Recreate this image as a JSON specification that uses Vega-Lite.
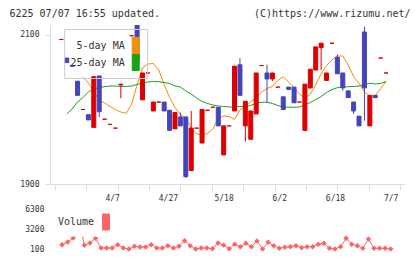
{
  "$schema": "https://vega.github.io/schema/vega-lite/v6.json",
  "width": 355,
  "height": 224,
  "autosize": "none",
  "padding": {"left": 50, "top": 25, "right": 15, "bottom": 10},
  "background": "white",
  "config": {
    "view": {"stroke": null},
    "axis": {
      "labelFont": "DejaVu Sans Mono",
      "labelFontSize": 8,
      "labelColor": "#333",
      "grid": false,
      "domainColor": "#dcdcdc",
      "tickColor": "#dcdcdc",
      "titleFont": "DejaVu Sans Mono",
      "titleFontSize": 10,
      "titleFontWeight": "normal",
      "titleColor": "#333"
    },
    "legend": {
      "labelFont": "DejaVu Sans Mono",
      "labelFontSize": 10,
      "labelColor": "#333",
      "symbolType": "M-1,-2.2857H1V2.2857H-1Z",
      "symbolSize": 49
    }
  },
  "datasets": {
    "candles": [
      {"i": 0, "o": 2094, "c": 2094, "h": 2094, "l": 2094},
      {"i": 1, "o": 2069, "c": 2063, "h": 2069, "l": 2063},
      {"i": 2, "o": 2059, "c": 2058, "h": 2059, "l": 2058},
      {"i": 3, "o": 2038, "c": 2019, "h": 2038, "l": 2019},
      {"i": 4, "o": 2000, "c": 2000, "h": 2000, "l": 2000},
      {"i": 5, "o": 1993, "c": 1986, "h": 1993, "l": 1986},
      {"i": 6, "o": 1976, "c": 2044, "h": 2044, "l": 1976},
      {"i": 7, "o": 2045, "c": 1997, "h": 2045, "l": 1990},
      {"i": 8, "o": 1987, "c": 1987, "h": 1987, "l": 1987},
      {"i": 9, "o": 1980, "c": 1980, "h": 1980, "l": 1980},
      {"i": 10, "o": 1975, "c": 1975, "h": 1975, "l": 1975},
      {"i": 11, "o": 2033, "c": 2034, "h": 2034, "l": 2015},
      {"i": 13, "o": 2099, "c": 2099, "h": 2099, "l": 2099},
      {"i": 14, "o": 2118, "c": 2063, "h": 2118, "l": 2063},
      {"i": 15, "o": 2013, "c": 2049, "h": 2049, "l": 2013},
      {"i": 16, "o": 2049, "c": 2049, "h": 2049, "l": 2049},
      {"i": 17, "o": 1998, "c": 2010, "h": 2010, "l": 1998},
      {"i": 18, "o": 2010, "c": 2010, "h": 2010, "l": 2010},
      {"i": 19, "o": 2010, "c": 1998, "h": 2010, "l": 1998},
      {"i": 20, "o": 1999, "c": 1972, "h": 1999, "l": 1972},
      {"i": 21, "o": 1974, "c": 1996, "h": 1996, "l": 1974},
      {"i": 22, "o": 1990, "c": 1978, "h": 1996, "l": 1978},
      {"i": 23, "o": 1990, "c": 1910, "h": 1990, "l": 1908},
      {"i": 24, "o": 1918, "c": 1975, "h": 1998, "l": 1918},
      {"i": 25, "o": 1975, "c": 1975, "h": 1975, "l": 1975},
      {"i": 26, "o": 1955, "c": 2000, "h": 2000, "l": 1955},
      {"i": 27, "o": 1999, "c": 1999, "h": 1999, "l": 1999},
      {"i": 28, "o": 2003, "c": 2003, "h": 2003, "l": 2003},
      {"i": 29, "o": 2003, "c": 1978, "h": 2003, "l": 1978},
      {"i": 30, "o": 1939, "c": 1978, "h": 1978, "l": 1939},
      {"i": 31, "o": 1978, "c": 1978, "h": 1978, "l": 1978},
      {"i": 32, "o": 1998, "c": 2058, "h": 2059, "l": 1998},
      {"i": 33, "o": 2060, "c": 2019, "h": 2069, "l": 2019},
      {"i": 34, "o": 1978, "c": 2011, "h": 2011, "l": 1957},
      {"i": 35, "o": 1960, "c": 1998, "h": 1998, "l": 1960},
      {"i": 36, "o": 1994, "c": 2049, "h": 2049, "l": 1994},
      {"i": 37, "o": 2059, "c": 2059, "h": 2059, "l": 2059},
      {"i": 38, "o": 2049, "c": 2041, "h": 2060, "l": 2010},
      {"i": 39, "o": 2041, "c": 2049, "h": 2049, "l": 2038},
      {"i": 40, "o": 2030, "c": 2030, "h": 2030, "l": 2030},
      {"i": 41, "o": 2017, "c": 2000, "h": 2017, "l": 2000},
      {"i": 42, "o": 2030, "c": 2027, "h": 2030, "l": 2026},
      {"i": 43, "o": 2030, "c": 2009, "h": 2030, "l": 2009},
      {"i": 44, "o": 2010, "c": 2010, "h": 2010, "l": 2010},
      {"i": 45, "o": 1972, "c": 2034, "h": 2034, "l": 1972},
      {"i": 46, "o": 2029, "c": 2054, "h": 2054, "l": 2028},
      {"i": 47, "o": 2053, "c": 2084, "h": 2084, "l": 2053},
      {"i": 48, "o": 2083, "c": 2089, "h": 2089, "l": 2053},
      {"i": 49, "o": 2039, "c": 2049, "h": 2049, "l": 2039},
      {"i": 50, "o": 2089, "c": 2089, "h": 2089, "l": 2089},
      {"i": 51, "o": 2070, "c": 2048, "h": 2074, "l": 2048},
      {"i": 52, "o": 2049, "c": 2029, "h": 2049, "l": 2025},
      {"i": 53, "o": 2025, "c": 2016, "h": 2025, "l": 2016},
      {"i": 54, "o": 2010, "c": 1998, "h": 2010, "l": 1994},
      {"i": 55, "o": 1991, "c": 1978, "h": 1991, "l": 1978},
      {"i": 56, "o": 2104, "c": 2029, "h": 2111, "l": 1985},
      {"i": 57, "o": 1978, "c": 2019, "h": 2019, "l": 1978},
      {"i": 58, "o": 2019, "c": 2016, "h": 2019, "l": 2015},
      {"i": 59, "o": 2069, "c": 2069, "h": 2069, "l": 2069},
      {"i": 60, "o": 2049, "c": 2049, "h": 2049, "l": 2049}
    ],
    "ma": [
      {"i": 1, "25-day MA": 1994.0},
      {"i": 2, "25-day MA": 2000.7},
      {"i": 3, "25-day MA": 2010.1},
      {"i": 4, "5-day MA": 2043.6, "25-day MA": 2016.1},
      {"i": 5, "5-day MA": 2035.6, "25-day MA": 2023.5},
      {"i": 6, "5-day MA": 2023.5, "25-day MA": 2027.5},
      {"i": 7, "5-day MA": 2012.7, "25-day MA": 2029.5},
      {"i": 8, "5-day MA": 2008.7, "25-day MA": 2030.6},
      {"i": 9, "5-day MA": 2004.0, "25-day MA": 2031.5},
      {"i": 10, "5-day MA": 2000.0, "25-day MA": 2031.5},
      {"i": 11, "5-day MA": 1996.6, "25-day MA": 2030.9},
      {"i": 12, "5-day MA": 1994.9, "25-day MA": 2030.9},
      {"i": 13, "5-day MA": 2007.4, "25-day MA": 2031.5},
      {"i": 14, "5-day MA": 2032.9, "25-day MA": 2033.6},
      {"i": 15, "5-day MA": 2055.7, "25-day MA": 2035.6},
      {"i": 16, "5-day MA": 2061.1, "25-day MA": 2036.9},
      {"i": 17, "5-day MA": 2061.7, "25-day MA": 2037.6},
      {"i": 18, "5-day MA": 2053.0, "25-day MA": 2037.3},
      {"i": 19, "5-day MA": 2033.6, "25-day MA": 2036.2},
      {"i": 20, "5-day MA": 2016.1, "25-day MA": 2034.9},
      {"i": 21, "5-day MA": 2002.7, "25-day MA": 2031.5},
      {"i": 22, "5-day MA": 1993.3, "25-day MA": 2030.2},
      {"i": 23, "5-day MA": 1988.6, "25-day MA": 2024.8},
      {"i": 24, "5-day MA": 1975.2, "25-day MA": 2020.8},
      {"i": 25, "5-day MA": 1967.1, "25-day MA": 2015.4},
      {"i": 26, "5-day MA": 1965.8, "25-day MA": 2010.7},
      {"i": 27, "5-day MA": 1967.8, "25-day MA": 2008.1},
      {"i": 28, "5-day MA": 1973.8, "25-day MA": 2006.0},
      {"i": 29, "5-day MA": 1988.6, "25-day MA": 2004.7},
      {"i": 30, "5-day MA": 1991.3, "25-day MA": 2004.0},
      {"i": 31, "5-day MA": 1990.6, "25-day MA": 2003.4},
      {"i": 32, "5-day MA": 1986.8, "25-day MA": 2003.4},
      {"i": 33, "5-day MA": 1999.3, "25-day MA": 2004.0},
      {"i": 34, "5-day MA": 2004.0, "25-day MA": 2004.0},
      {"i": 35, "5-day MA": 2010.5, "25-day MA": 2005.4},
      {"i": 36, "5-day MA": 2015.4, "25-day MA": 2008.7},
      {"i": 37, "5-day MA": 2023.5, "25-day MA": 2009.7},
      {"i": 38, "5-day MA": 2028.2, "25-day MA": 2009.7},
      {"i": 39, "5-day MA": 2030.9, "25-day MA": 2008.1},
      {"i": 40, "5-day MA": 2038.9, "25-day MA": 2005.4},
      {"i": 41, "5-day MA": 2044.0, "25-day MA": 2003.4},
      {"i": 42, "5-day MA": 2036.9, "25-day MA": 2003.0},
      {"i": 43, "5-day MA": 2028.9, "25-day MA": 2003.0},
      {"i": 44, "5-day MA": 2020.8, "25-day MA": 2003.4},
      {"i": 45, "5-day MA": 2015.0, "25-day MA": 2006.0},
      {"i": 46, "5-day MA": 2020.8, "25-day MA": 2009.4},
      {"i": 47, "5-day MA": 2032.9, "25-day MA": 2013.4},
      {"i": 48, "5-day MA": 2047.7, "25-day MA": 2017.4},
      {"i": 49, "5-day MA": 2059.1, "25-day MA": 2022.8},
      {"i": 50, "5-day MA": 2066.4, "25-day MA": 2026.8},
      {"i": 51, "5-day MA": 2071.8, "25-day MA": 2029.3},
      {"i": 52, "5-day MA": 2071.8, "25-day MA": 2030.2},
      {"i": 53, "5-day MA": 2059.7, "25-day MA": 2030.6},
      {"i": 54, "5-day MA": 2044.3, "25-day MA": 2030.9},
      {"i": 55, "5-day MA": 2034.9, "25-day MA": 2031.5},
      {"i": 56, "5-day MA": 2023.5, "25-day MA": 2033.6},
      {"i": 57, "5-day MA": 2018.1, "25-day MA": 2035.2},
      {"i": 58, "5-day MA": 2018.8, "25-day MA": 2034.2},
      {"i": 59, "5-day MA": 2028.2, "25-day MA": 2034.9},
      {"i": 60, "5-day MA": 2037.6, "25-day MA": 2037.6}
    ],
    "vol": [
      {"i": 1, "v": 770}, {"i": 2, "v": 1185}, {"i": 3, "v": 1805}, {"i": 4, "v": 5000},
      {"i": 5, "v": 670}, {"i": 6, "v": 1030}, {"i": 7, "v": 1760}, {"i": 8, "v": 255},
      {"i": 9, "v": 255}, {"i": 10, "v": 255}, {"i": 11, "v": 770}, {"i": 12, "v": 255},
      {"i": 13, "v": 100}, {"i": 14, "v": 520}, {"i": 15, "v": 410}, {"i": 16, "v": 410},
      {"i": 17, "v": 770}, {"i": 18, "v": 255}, {"i": 19, "v": 255}, {"i": 20, "v": 610},
      {"i": 21, "v": 255}, {"i": 22, "v": 520}, {"i": 23, "v": 1390}, {"i": 24, "v": 610},
      {"i": 25, "v": 100}, {"i": 26, "v": 255}, {"i": 27, "v": 255}, {"i": 28, "v": 150},
      {"i": 29, "v": 1030}, {"i": 30, "v": 700}, {"i": 31, "v": 150}, {"i": 32, "v": 830},
      {"i": 33, "v": 460}, {"i": 34, "v": 980}, {"i": 35, "v": 460}, {"i": 36, "v": 1340},
      {"i": 37, "v": 100}, {"i": 38, "v": 1140}, {"i": 39, "v": 610}, {"i": 40, "v": 210},
      {"i": 41, "v": 360}, {"i": 42, "v": 460}, {"i": 43, "v": 610}, {"i": 44, "v": 300},
      {"i": 45, "v": 460}, {"i": 46, "v": 460}, {"i": 47, "v": 830}, {"i": 48, "v": 980},
      {"i": 49, "v": 210}, {"i": 50, "v": 100}, {"i": 51, "v": 460}, {"i": 52, "v": 1760},
      {"i": 53, "v": 830}, {"i": 54, "v": 610}, {"i": 55, "v": 210}, {"i": 56, "v": 1650},
      {"i": 57, "v": 210}, {"i": 58, "v": 210}, {"i": 59, "v": 210}, {"i": 60, "v": 100}
    ]
  },
  "layer": [
    {
      "encoding": {
        "x": {
          "field": "i",
          "type": "quantitative",
          "scale": {"domain": [-1.167, 62.57], "nice": false, "zero": false},
          "axis": {
            "orient": "bottom",
            "offset": -65,
            "title": null,
            "labels": false,
            "tickSize": 6,
            "values": [-1.167, 4.627, 10.422, 16.216, 22.01, 27.805, 33.599, 39.393, 45.188, 50.982, 56.776, 62.57]
          }
        }
      },
      "layer": [
        {
          "data": {"name": "ma"},
          "transform": [{"fold": ["5-day MA", "25-day MA"], "as": ["series", "ma"]}],
          "mark": {"type": "line", "strokeWidth": 1, "clip": true},
          "encoding": {
            "y": {
              "field": "ma",
              "type": "quantitative",
              "scale": {"domain": [1900, 2113.4], "range": [159, 0], "nice": false, "zero": false},
              "axis": {
                "title": "(C)https://www.rizumu.net/",
                "titleAngle": 0,
                "titleAlign": "right",
                "titleBaseline": "alphabetic",
                "titleX": 360,
                "titleY": -9,
                "values": [1900, 2100],
                "format": "d",
                "tickSize": 5,
                "labelPadding": 6
              }
            },
            "color": {
              "field": "series",
              "type": "nominal",
              "scale": {"domain": ["5-day MA", "25-day MA"], "range": ["#f0900a", "#1aa31a"]},
              "legend": {
                "title": " ",
                "titleFontSize": 2,
                "titlePadding": 4,
                "orient": "none",
                "legendX": 14.2,
                "legendY": 4,
                "padding": 5.5,
                "rowPadding": -3,
                "labelAlign": "right",
                "labelOffset": -16,
                "symbolOffset": 61,
                "strokeColor": "#cccccc",
                "encode": {
                  "symbols": {
                    "update": {
                      "fill": [{"test": "datum.value === '5-day MA'", "value": "#f0900a"}, {"value": "#1aa31a"}],
                      "stroke": {"value": "#333333"},
                      "strokeWidth": {"value": 1}
                    }
                  }
                }
              }
            }
          }
        },
        {
          "data": {"name": "candles"},
          "mark": {"type": "rule", "strokeWidth": 1, "clip": true},
          "encoding": {
            "y": {"field": "l", "type": "quantitative"},
            "y2": {"field": "h"},
            "color": {"condition": {"test": "datum.c >= datum.o", "value": "#dd0000"}, "value": "#4444bb"}
          }
        },
        {
          "data": {"name": "candles"},
          "mark": {"type": "bar", "width": 4, "strokeWidth": 1, "clip": true},
          "encoding": {
            "y": {"field": "o", "type": "quantitative"},
            "y2": {"field": "c"},
            "fill": {"condition": {"test": "datum.c >= datum.o", "value": "#dd0000"}, "value": "#4444bb"},
            "stroke": {"condition": {"test": "datum.c >= datum.o", "value": "#dd0000"}, "value": "#4444bb"}
          }
        }
      ]
    },
    {
      "data": {"name": "vol"},
      "encoding": {
        "x": {
          "field": "i",
          "type": "quantitative",
          "scale": {"domain": [-1.167, 62.57], "nice": false, "zero": false},
          "axis": {
            "orient": "bottom",
            "offset": -65,
            "title": null,
            "domain": false,
            "ticks": false,
            "labelPadding": 10,
            "values": [10, 20, 30, 40, 50, 60],
            "labelExpr": "datum.value == 10 ? '4/7' : datum.value == 20 ? '4/27' : datum.value == 30 ? '5/18' : datum.value == 40 ? '6/2' : datum.value == 50 ? '6/18' : '7/7'"
          }
        },
        "y": {
          "field": "v",
          "type": "quantitative",
          "scale": {"domain": [100, 6300], "range": [224, 184], "nice": false, "zero": false},
          "axis": {
            "orient": "left",
            "title": "6225 07/07 16:55 updated.",
            "titleAngle": 0,
            "titleAlign": "left",
            "titleBaseline": "alphabetic",
            "titleX": -41,
            "titleY": -9,
            "domain": false,
            "ticks": false,
            "labelPadding": 6,
            "format": "d",
            "values": [100, 3200, 6300]
          }
        },
        "color": {
          "datum": "Volume",
          "type": "nominal",
          "scale": {"range": ["#ff6464"]},
          "legend": {
            "title": null,
            "orient": "none",
            "legendX": 3.4,
            "legendY": 188.4,
            "padding": 3.6,
            "labelAlign": "right",
            "labelOffset": -17,
            "symbolOffset": 44,
            "fillColor": "white",
            "encode": {
              "symbols": {
                "update": {
                  "fill": {"value": "#ff6464"},
                  "stroke": {"value": "#333333"},
                  "strokeWidth": {"value": 1}
                }
              }
            }
          }
        }
      },
      "layer": [
        {"mark": {"type": "line", "strokeWidth": 1}},
        {"mark": {"type": "point", "shape": "diamond", "filled": true, "size": 30, "opacity": 1}}
      ]
    }
  ],
  "resolve": {
    "scale": {"x": "independent", "y": "independent", "color": "independent"},
    "axis": {"x": "independent", "y": "independent"},
    "legend": {"color": "independent"}
  }
}
